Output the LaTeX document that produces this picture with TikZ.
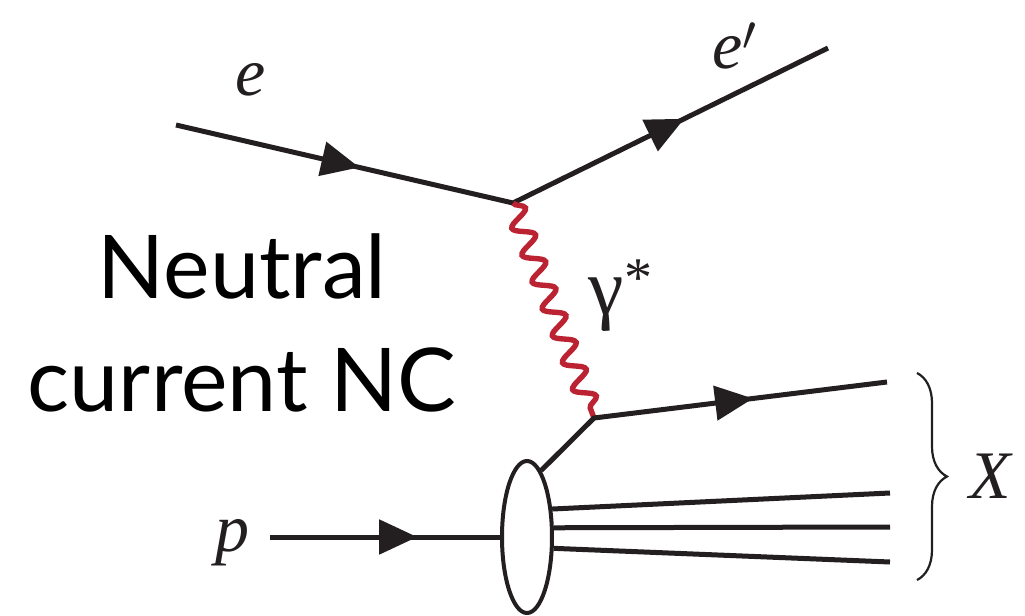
\documentclass[tikz,border=0pt]{standalone}
\usepackage{fontspec}
\newfontfamily\tms{Liberation Serif}
\newfontfamily\lato{Lato}
\usetikzlibrary{arrows.meta,decorations.markings,decorations.pathmorphing,decorations.pathreplacing,shapes.geometric}
\definecolor{ink}{RGB}{35,31,32}
\definecolor{phot}{RGB}{188,35,50}
\begin{document}
\begin{tikzpicture}[x=0.5pt,y=-0.5pt,
  fermiontwo/.style 2 args={draw=ink,line width=2.5pt,decoration={markings,
      mark=at position #1 with {\arrow{Triangle[length=19pt,width=17pt]}},
      mark=at position #2 with {\arrow{Triangle[length=19pt,width=17pt]}}},postaction=decorate},
  fermion/.style={draw=ink,line width=2.5pt,decoration={markings,
      mark=at position #1 with {\arrow{Triangle[length=19pt,width=17pt]}}},postaction=decorate},
  plain/.style={draw=ink,line width=2.5pt},
  photon/.style={draw=phot,line width=2.7pt,decoration={snake,segment length=14.36pt,amplitude=5pt},decorate},
  lbl/.style={font=\tms\fontsize{34}{40}\selectfont,text=ink,inner sep=0pt},
  big/.style={font=\lato\fontsize{44}{56}\selectfont,text=black,inner sep=0pt}]
\useasboundingbox (0,0) rectangle (1025,616);
\coordinate (ein) at (176,125);
\coordinate (v1) at (513,203);
\coordinate (eout) at (828,48);
\coordinate (v2) at (594,418);
\coordinate (qout) at (887,382);
\coordinate (pin) at (270,537);
\coordinate (r1) at (890,493);
\coordinate (r2) at (890,527);
\coordinate (r3) at (890,562);
\coordinate (bt) at (917,373);
\coordinate (bb) at (917,580);
\node[ellipse,draw=ink,line width=2pt,minimum width=25pt,minimum height=76pt,inner sep=0pt] (blob) at (527,537) {};
% lines
\draw[fermiontwo={0.27}{0.77}] (ein) -- (v1) -- (eout);
\draw[photon] (v1) -- (v2);
\draw[fermion=0.635] (blob.78) -- (v2) -- (qout);
\draw[fermion=0.64] (pin) -- (blob.west);
\draw[plain] (blob.48) -- (r1);
\draw[plain] (blob.19) -- (r2);
\draw[plain] (blob.-23) -- (r3);
\draw[ink,line width=1.1pt,decorate,decoration={brace,amplitude=15pt}] (bt) -- (bb);
% labels
\node[lbl] (le) at (251,80) {\itshape e};
\node[lbl] (leo) at (735,46) {\itshape e$'$};
\node[lbl,font=\tms\fontsize{40}{44}\selectfont] (lg) at (621,296) {γ\textsuperscript{*}};
\node[lbl] (lp) at (232,543) {\itshape p};
\node[lbl] (lx) at (990,476) {\itshape X};
\node[big,anchor=base] (t1) at (242,298) {Neutral};
\node[big,anchor=base] (t2) at (242,411) {current NC};
\end{tikzpicture}
\end{document}
